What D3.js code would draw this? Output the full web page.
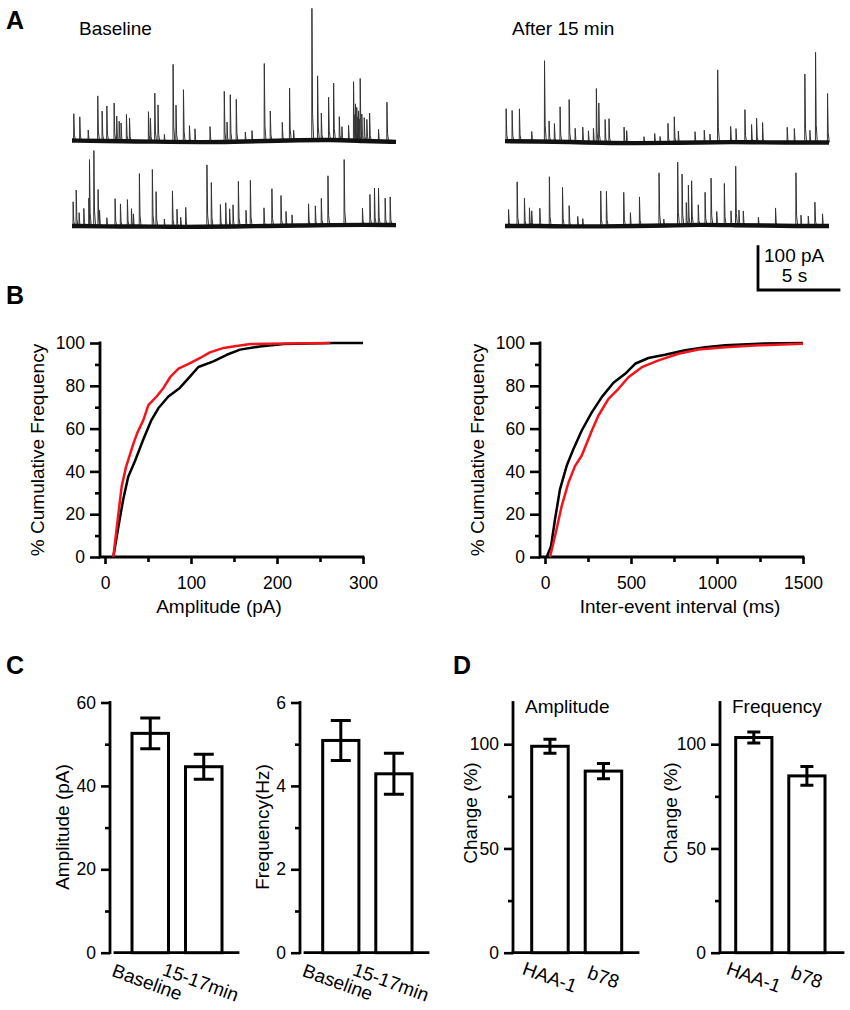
<!DOCTYPE html>
<html lang="en">
<head>
<meta charset="UTF-8">
<title>Spontaneous events: traces, cumulative plots, summary bars</title>
<script src="https://d3js.org/d3.v7.min.js"></script>
<style>
  body { margin: 0; background: #fff; }
  svg { display: block; font-family: "Liberation Sans", Arial, Helvetica, sans-serif; }
  .letter { font-size: 25px; font-weight: bold; }
  .lbl { font-size: 19px; }
  .tick text { font-size: 17.5px; font-family: "Liberation Sans", Arial, Helvetica, sans-serif; fill: #000; }
  .tick line { stroke: #000; stroke-width: 2.6px; }
  .ax { stroke: #000; stroke-width: 2.8px; fill: none; stroke-linecap: square; }
</style>
</head>
<body>
<script>
// ---------- Panel A: events, [time (s), amplitude (pA)] ----------
const baselineRow1 = [[0.10,62],[0.47,55],[0.99,25],[1.58,104],[1.85,69],[2.14,81],[2.59,88],[2.75,58],
  [2.90,46],[3.02,42],[3.35,62],[3.54,54],[4.71,69],[4.83,54],[5.10,112],[5.30,85],[5.69,17],[6.23,179],
  [6.41,85],[6.87,121],[7.24,38],[7.58,31],[8.51,36],[9.39,117],[9.56,46],[9.76,109],[10.13,98],[10.69,22],
  [11.10,25],[11.86,179],[12.23,69],[12.97,42],[13.42,121],[13.67,23],[14.80,304],[15.15,148],[15.38,62],
  [15.83,98],[16.14,131],[16.49,54],[16.65,31],[17.06,35],[17.37,136],[17.45,60],[17.49,85],[17.57,77],
  [17.62,55],[17.68,69],[17.73,50],[17.78,144],[17.88,62],[18.03,54],[18.19,50],[18.36,65],[18.91,28],[19.43,91]];
const baselineRow2 = [[0.06,56],[0.25,83],[0.43,31],[0.72,41],[1.03,65],[1.07,154],[1.34,175],[1.60,85],
  [1.69,37],[2.14,20],[2.65,64],[2.98,52],[3.41,62],[3.66,41],[3.78,29],[4.15,122],[4.95,132],[5.18,81],
  [5.69,18],[6.19,83],[6.47,41],[6.70,22],[7.01,45],[8.32,143],[8.59,102],[9.15,51],[9.48,55],[9.72,41],
  [9.93,50],[10.26,104],[10.73,37],[11.00,106],[11.84,42],[12.33,86],[12.89,70],[13.20,33],[13.57,25],
  [14.59,50],[15.01,45],[15.38,62],[15.79,114],[16.79,151],[17.92,38],[18.38,70],[18.66,85],[18.91,85],
  [19.32,62],[19.63,65]];
const afterRow1 = [[0.06,75],[0.43,71],[0.88,75],[1.64,23],[2.43,187],[2.71,48],[3.04,42],[3.39,81],
  [3.95,98],[4.32,32],[4.79,35],[5.14,27],[5.45,33],[5.63,125],[5.78,92],[6.17,54],[6.41,56],[7.34,37],
  [7.50,29],[8.57,15],[9.23,22],[9.56,15],[10.05,45],[10.44,60],[10.69,27],[11.72,25],[12.29,28],[12.64,19],
  [13.12,167],[13.92,36],[14.25,31],[14.80,75],[15.21,41],[15.52,56],[15.89,46],[17.41,35],[17.85,32],
  [18.50,158],[18.81,28],[19.16,208],[19.90,113]];
const afterRow2 = [[0.21,38],[0.74,102],[1.19,64],[1.50,42],[1.64,35],[2.14,41],[2.73,114],[3.54,90],
  [3.95,48],[4.48,23],[4.79,18],[5.90,82],[6.25,81],[7.32,78],[7.73,31],[8.29,67],[9.50,122],[9.79,15],
  [10.65,146],[10.92,118],[11.18,52],[11.31,92],[11.51,102],[11.92,46],[12.34,75],[12.71,108],[13.06,31],
  [13.53,96],[13.94,33],[14.23,136],[14.43,35],[14.70,33],[15.63,19],[16.69,41],[17.95,123],[18.26,25],
  [18.71,23],[19.12,55],[19.59,28]];
// slow drift of the holding current (pA), sampled every 2 s
const driftTimes = [0, 2, 4, 6, 8, 10, 12, 14, 16, 18, 20];
const baselineDrift1 = [1, 0, -1, -2, -3, -2, 0, 2, 3, 0, -2];
const baselineDrift2 = [0, -1, -1, -2, -2, -1, 0, 1, 2, 3, 2];
const afterDrift1 = [2, 1, 0, -2, -3, -2, -1, 0, -1, -1, -1];
const afterDrift2 = [0, 0, -1, -1, 0, 1, 3, 2, 1, 0, 0];

// ---------- Panel B: cumulative distributions, [value, % cumulative] ----------
const ampBaseline = [[9.7,0],[15.5,14],[21,26.5],[27,37.5],[35,45],[44.6,55],[54,64],[62,69.5],[73.7,75],
  [87,79],[99,84.4],[108.6,88.8],[126,91.4],[141.6,94.5],[157,96.9],[180,98.4],[207.6,99.5],[266,100],[300,100]];
const ampAfter = [[9.7,0],[15.5,20],[19.4,33],[24.4,42],[33,53],[37.6,58],[44.6,64],[50.4,71],[60,75],
  [68,79],[75.7,84],[85.4,88],[99,90.6],[110.6,93],[122,95.6],[138,97.7],[149,98.4],[169,99.5],[188,99.7],[262,100]];
const ieiBaseline = [[10,0],[35,5],[58,17.5],[87,31.6],[126,42.6],[165,50.4],[213,59],[272,67.6],[330,74.7],
  [398,81.4],[466,85.6],[524,90.3],[601,93],[698,94.5],[815,96.6],[931,98],[1048,98.9],[1242,99.7],[1500,100]];
const ieiAfter = [[29,0],[58,9.7],[97,23.8],[136,34.7],[175,42.6],[213,47.3],[252,55],[272,59],[310,66],
  [369,73.9],[427,78.6],[485,84],[563,88.7],[660,91.9],[776,95],[892,97],[1048,98],[1242,98.9],[1500,99.7]];

// ---------- Panels C and D: means and SEM ----------
const cGroups = ["Baseline", "15-17min"];
const cAmplitude = [52.6, 44.6], cAmplitudeSem = [3.7, 3.0];
const cFrequency = [5.09, 4.29], cFrequencySem = [0.48, 0.49];
const dGroups = ["HAA-1", "b78"];
const dAmplitude = [99.0, 87.1], dAmplitudeSem = [3.4, 3.7];
const dFrequency = [103.2, 84.8], dFrequencySem = [2.6, 4.5];

const svg = d3.select("body").append("svg").attr("width", 850).attr("height", 1010);
const intFmt = d3.format("d");

// panel letters
[["A", 6, 29], ["B", 6, 304], ["C", 6, 674], ["D", 453, 674]].forEach(([t, x, y]) => {
  svg.append("text").attr("class", "letter").attr("x", x).attr("y", y).text(t);
});

// ---------- A: traces ----------
const tx = d3.scaleLinear([0, 20], [0, 324]);
const ty = d3.scaleLinear([0, 100], [0, -43.3]);

function drawTrace(x0, y0, events, drift) {
  const g = svg.append("g").attr("transform", `translate(${x0},${y0})`);
  const base = d3.scaleLinear(driftTimes, drift);
  // events first, the thick noisy baseline on top of their feet
  const spike = d3.line().x(d => tx(d[0])).y(d => ty(d[1]));
  g.selectAll("path.ev").data(events).join("path").attr("class", "ev")
    .attr("d", ([t, a]) => spike([[t, base(t)], [t + 0.01, base(t) + a], [t + 0.05, base(t) + a * 0.2], [t + 0.12, base(t)]]))
    .attr("fill", "none").attr("stroke", "#333").attr("stroke-width", 1);
  g.append("path").datum(driftTimes.map((t, i) => [t, drift[i]]))
    .attr("d", d3.line().x(d => tx(d[0])).y(d => ty(d[1])).curve(d3.curveBasis))
    .attr("fill", "none").attr("stroke", "#111").attr("stroke-width", 4.4);
}
drawTrace(72, 141, baselineRow1, baselineDrift1);
drawTrace(72, 226, baselineRow2, baselineDrift2);
drawTrace(505, 142, afterRow1, afterDrift1);
drawTrace(505, 226, afterRow2, afterDrift2);

svg.append("text").attr("class", "lbl").attr("x", 79).attr("y", 35).text("Baseline");
svg.append("text").attr("class", "lbl").attr("x", 512).attr("y", 35).text("After 15 min");

// scale bar: 100 pA / 5 s
const sb = svg.append("g").attr("transform", "translate(758,290)");
sb.append("path").attr("class", "ax").attr("stroke-linecap", "butt")
  .attr("d", `M0,${ty(100)}V0H${tx(5)}`);
sb.append("text").attr("class", "lbl").attr("x", 6).attr("y", ty(100) + 15).text("100 pA");
sb.append("text").attr("class", "lbl").attr("x", tx(5) / 2 - 4).attr("y", -8)
  .attr("text-anchor", "middle").text("5 s");

// ---------- B: cumulative frequency ----------
function cdfPanel(cfg) {
  const g = svg.append("g");
  const x = d3.scaleLinear(cfg.xDomain, [cfg.left + 5, cfg.left + 263]);
  const y = d3.scaleLinear([0, 100], [557, 343]);

  g.append("g").attr("transform", `translate(${cfg.left},0)`)
    .call(d3.axisLeft(y).tickValues(d3.range(0, 101, 20)).tickSize(10).tickPadding(5).tickFormat(intFmt))
    .call(a => a.select(".domain").remove());
  g.append("g").attr("transform", `translate(${cfg.left},0)`)
    .call(d3.axisLeft(y).tickValues(d3.range(10, 100, 20)).tickSize(5).tickFormat(""))
    .call(a => a.select(".domain").remove());
  g.append("g").attr("transform", "translate(0,557)")
    .call(d3.axisBottom(x).tickValues(cfg.xTicks).tickSize(7).tickPadding(13).tickFormat(intFmt))
    .call(a => a.select(".domain").remove());
  g.append("g").attr("transform", "translate(0,557)")
    .call(d3.axisBottom(x).tickValues(cfg.xMinor).tickSize(5).tickFormat(""))
    .call(a => a.select(".domain").remove());
  g.append("path").attr("class", "ax")
    .attr("d", `M${cfg.left},${y(100)}V${y(0)}H${x.range()[1]}`);

  const line = d3.line().x(d => x(d[0])).y(d => y(d[1]));
  g.append("path").datum(cfg.black).attr("d", line)
    .attr("fill", "none").attr("stroke", "#000").attr("stroke-width", 2.5).attr("stroke-linejoin", "round");
  g.append("path").datum(cfg.red).attr("d", line)
    .attr("fill", "none").attr("stroke", "#f4131a").attr("stroke-width", 2.5).attr("stroke-linejoin", "round");

  g.append("text").attr("class", "lbl").attr("text-anchor", "middle")
    .attr("transform", `translate(${cfg.left - 63},${(y(0) + y(100)) / 2}) rotate(-90)`)
    .attr("dy", "0.35em").text("% Cumulative Frequency");
  g.append("text").attr("class", "lbl").attr("text-anchor", "middle")
    .attr("x", (x.range()[0] + x.range()[1]) / 2 + cfg.labelShift).attr("y", 613).text(cfg.xLabel);
}
cdfPanel({ left: 100, xDomain: [0, 300], xTicks: [0, 100, 200, 300], xMinor: [50, 150, 250],
  black: ampBaseline, red: ampAfter, xLabel: "Amplitude (pA)", labelShift: -15 });
cdfPanel({ left: 540, xDomain: [0, 1500], xTicks: [0, 500, 1000, 1500], xMinor: [250, 750, 1250],
  black: ieiBaseline, red: ieiAfter, xLabel: "Inter-event interval (ms)", labelShift: 6 });

// ---------- C and D: bar charts ----------
function barPanel(cfg) {
  const g = svg.append("g");
  const y = d3.scaleLinear(cfg.yDomain, [952.7, 702.5]);
  const x = d3.scaleBand(cfg.groups, cfg.barRange).paddingInner(0.318);

  g.append("g").attr("transform", `translate(${cfg.axisX},0)`)
    .call(d3.axisLeft(y).tickValues(cfg.major).tickSize(9).tickPadding(5).tickFormat(intFmt))
    .call(a => a.select(".domain").remove());
  g.append("g").attr("transform", `translate(${cfg.axisX},0)`)
    .call(d3.axisLeft(y).tickValues(cfg.minor).tickSize(5).tickFormat(""))
    .call(a => a.select(".domain").remove());
  g.append("path").attr("class", "ax").attr("d", `M${cfg.axisX},${y.range()[1]}V${y(0)}`);
  g.append("path").attr("class", "ax").attr("d", `M${cfg.axisX + cfg.gap},${y(0)}H${cfg.xEnd}`);

  g.selectAll("rect").data(cfg.values).join("rect")
    .attr("x", (d, i) => x(cfg.groups[i])).attr("width", x.bandwidth())
    .attr("y", d => y(d)).attr("height", d => y(0) - y(d))
    .attr("fill", "#fff").attr("stroke", "#000").attr("stroke-width", 3);

  const cap = cfg.cap / 2;
  g.selectAll("path.err").data(cfg.values).join("path").attr("class", "err")
    .attr("d", (d, i) => {
      const cx = x(cfg.groups[i]) + x.bandwidth() / 2;
      const hi = y(d + cfg.sem[i]), lo = y(d - cfg.sem[i]);
      return `M${cx},${hi}V${lo}M${cx - cap},${hi}H${cx + cap}M${cx - cap},${lo}H${cx + cap}`;
    })
    .attr("fill", "none").attr("stroke", "#000").attr("stroke-width", 3);

  g.selectAll("text.cat").data(cfg.groups).join("text").attr("class", "lbl cat")
    .attr("text-anchor", "middle").attr("dy", "0.35em")
    .attr("transform", d => `translate(${x(d) + x.bandwidth() / 2 + cfg.catShift},${cfg.catY}) rotate(20)`)
    .text(d => d);

  g.append("text").attr("class", "lbl").attr("text-anchor", "middle").attr("dy", "0.35em")
    .attr("transform", `translate(${cfg.labelX},${cfg.labelY}) rotate(-90)`).text(cfg.yLabel);
  if (cfg.title) {
    g.append("text").attr("class", "lbl").attr("x", cfg.axisX + 12).attr("y", 713).text(cfg.title);
  }
}
barPanel({ axisX: 110, gap: 5, barRange: [132, 222], xEnd: 238, yDomain: [0, 60],
  major: [0, 20, 40, 60], minor: [10, 30, 50], groups: cGroups, values: cAmplitude, sem: cAmplitudeSem,
  cap: 20, catShift: -3, catY: 982, yLabel: "Amplitude (pA)", labelX: 62, labelY: 827 });
barPanel({ axisX: 300, gap: 5, barRange: [322.7, 412], xEnd: 428, yDomain: [0, 6],
  major: [0, 2, 4, 6], minor: [1, 3, 5], groups: cGroups, values: cFrequency, sem: cFrequencySem,
  cap: 20, catShift: -3, catY: 982, yLabel: "Frequency(Hz)", labelX: 262, labelY: 827 });
barPanel({ axisX: 513, gap: 0, barRange: [531.7, 621.7], xEnd: 638, yDomain: [0, 120],
  major: [0, 50, 100], minor: [25, 75], groups: dGroups, values: dAmplitude, sem: dAmplitudeSem,
  cap: 13, catShift: 0, catY: 977, yLabel: "Change (%)", labelX: 470, labelY: 813, title: "Amplitude" });
barPanel({ axisX: 720, gap: 0, barRange: [735.7, 825], xEnd: 843, yDomain: [0, 120],
  major: [0, 50, 100], minor: [25, 75], groups: dGroups, values: dFrequency, sem: dFrequencySem,
  cap: 13, catShift: 0, catY: 977, yLabel: "Change (%)", labelX: 670, labelY: 813, title: "Frequency" });
</script>
</body>
</html>
